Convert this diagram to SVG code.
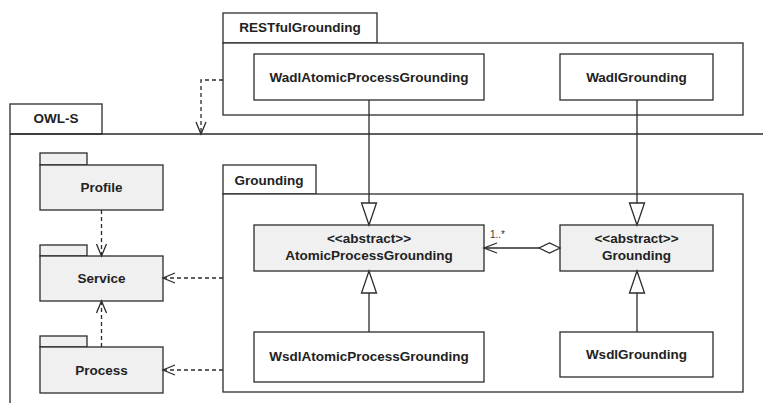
<svg xmlns="http://www.w3.org/2000/svg" width="763" height="403" viewBox="0 0 763 403">
<style>
  .frame { fill: #ffffff; stroke: #2b2b2b; stroke-width: 1.3; }
  .cls { fill: #ffffff; stroke: #2b2b2b; stroke-width: 1.3; }
  .abs { fill: #f0f0f0; stroke: #2b2b2b; stroke-width: 1.3; }
  .pkg { fill: #f0f0f0; stroke: #2b2b2b; stroke-width: 1.3; }
  .t { font-family: "Liberation Sans", Arial, sans-serif; font-weight: bold; font-size: 13.5px; fill: #222222; text-anchor: middle; }
  .lbl { font-family: "Liberation Sans", Arial, sans-serif; font-size: 10px; fill: #333333; }
  .solid { fill: none; stroke: #2b2b2b; stroke-width: 1.3; }
  .dash { fill: none; stroke: #2b2b2b; stroke-width: 1.3; stroke-dasharray: 4 3; }
  .open { fill: none; stroke: #2b2b2b; stroke-width: 1.3; }
  .tri { fill: #ffffff; stroke: #2b2b2b; stroke-width: 1.3; }
</style>
<rect width="763" height="403" fill="#ffffff"/>

<g id="OWL-S">
  <rect class="frame" x="10" y="104" width="92" height="30"/>
  <path class="solid" d="M10,134 H763 M10,134 V403"/>
  <text class="t" x="56" y="123">OWL-S</text>
</g>

<g id="RESTfulGrounding">
  <rect class="frame" x="223" y="13" width="154" height="30"/>
  <rect class="frame" x="223" y="43" width="520" height="72"/>
  <text class="t" x="300" y="32">RESTfulGrounding</text>
</g>

<g id="Grounding">
  <rect class="frame" x="223" y="165" width="93" height="29"/>
  <rect class="frame" x="223" y="194" width="520" height="198"/>
  <text class="t" x="269" y="185">Grounding</text>
</g>

<g id="WadlAtomicProcessGrounding">
  <rect class="cls" x="254" y="54" width="230" height="46"/>
  <text class="t" x="369" y="82">WadlAtomicProcessGrounding</text>
</g>

<g id="WadlGrounding">
  <rect class="cls" x="560" y="54" width="153" height="46"/>
  <text class="t" x="636.5" y="82">WadlGrounding</text>
</g>

<g id="AtomicProcessGrounding">
  <rect class="abs" x="254" y="225" width="230" height="46"/>
  <text class="t" x="369" y="243">&lt;&lt;abstract&gt;&gt;</text>
  <text class="t" x="369" y="260">AtomicProcessGrounding</text>
</g>

<g id="AbstractGrounding">
  <rect class="abs" x="560" y="225" width="153" height="46"/>
  <text class="t" x="636.5" y="243">&lt;&lt;abstract&gt;&gt;</text>
  <text class="t" x="636.5" y="260">Grounding</text>
</g>

<g id="WsdlAtomicProcessGrounding">
  <rect class="cls" x="254" y="332" width="230" height="50"/>
  <text class="t" x="369" y="361">WsdlAtomicProcessGrounding</text>
</g>

<g id="WsdlGrounding">
  <rect class="cls" x="560" y="332" width="153" height="45"/>
  <text class="t" x="636.5" y="359">WsdlGrounding</text>
</g>

<g id="Profile">
  <rect class="pkg" x="40" y="153" width="47" height="12"/>
  <rect class="pkg" x="40" y="165" width="123" height="45"/>
  <text class="t" x="101.5" y="192">Profile</text>
</g>

<g id="Service">
  <rect class="pkg" x="40" y="245" width="47" height="11"/>
  <rect class="pkg" x="40" y="256" width="123" height="45"/>
  <text class="t" x="101.5" y="283">Service</text>
</g>

<g id="Process">
  <rect class="pkg" x="40" y="336" width="47" height="11"/>
  <rect class="pkg" x="40" y="347" width="123" height="46"/>
  <text class="t" x="101.5" y="375">Process</text>
</g>

<g id="connectors">
  <!-- RESTfulGrounding depends on OWL-S -->
  <path class="dash" d="M223,80 H201 V133"/>
  <path class="open" d="M196,122 L201,134 L206,122"/>

  <!-- Profile -> Service -->
  <path class="dash" d="M101.5,210 V255"/>
  <path class="open" d="M96.5,244 L101.5,256 L106.5,244"/>

  <!-- Process -> Service -->
  <path class="dash" d="M101.5,347 V302"/>
  <path class="open" d="M96.5,313 L101.5,301 L106.5,313"/>

  <!-- Grounding -> Service -->
  <path class="dash" d="M223,278 H164"/>
  <path class="open" d="M175,273 L163,278 L175,283"/>

  <!-- Grounding -> Process -->
  <path class="dash" d="M223,370 H164"/>
  <path class="open" d="M175,365 L163,370 L175,375"/>

  <!-- Generalizations -->
  <path class="solid" d="M369,100 V203"/>
  <path class="tri" d="M361.5,203 L376.5,203 L369,225 Z"/>

  <path class="solid" d="M637,100 V203"/>
  <path class="tri" d="M629.5,203 L644.5,203 L637,225 Z"/>

  <path class="solid" d="M369,332 V293"/>
  <path class="tri" d="M361.5,293 L376.5,293 L369,271 Z"/>

  <path class="solid" d="M637,332 V293"/>
  <path class="tri" d="M629.5,293 L644.5,293 L637,271 Z"/>

  <!-- Aggregation -->
  <path class="solid" d="M539,248 H485"/>
  <path class="open" d="M497,243 L484,248 L497,253"/>
  <path class="tri" d="M560,248 L549.5,243 L539,248 L549.5,253 Z"/>
  <text class="lbl" x="490" y="238">1..*</text>
</g>
</svg>
